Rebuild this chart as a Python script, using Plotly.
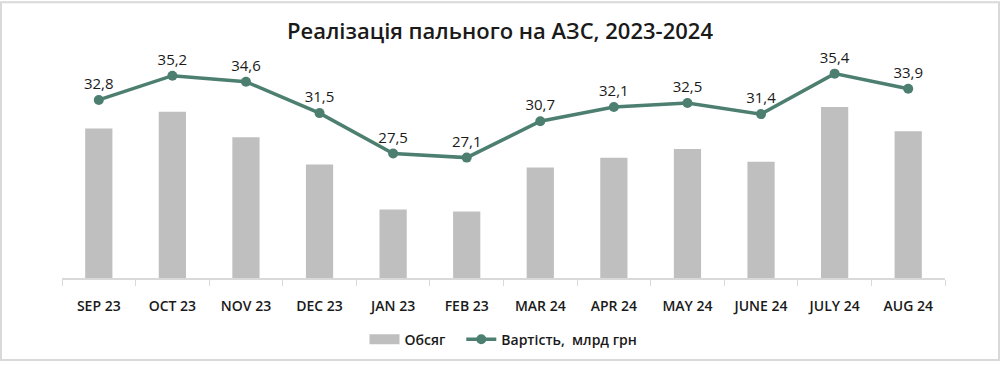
import plotly.graph_objects as go

categories = ["SEP 23", "OCT 23", "NOV 23", "DEC 23", "JAN 23", "FEB 23",
              "MAR 24", "APR 24", "MAY 24", "JUNE 24", "JULY 24", "AUG 24"]
volume = [153, 170, 144, 116, 70, 68, 113, 123, 132, 119, 175, 150]
value_bn = [32.8, 35.2, 34.6, 31.5, 27.5, 27.1, 30.7, 32.1, 32.5, 31.4, 35.4, 33.9]
value_labels = [f"{v:.1f}".replace(".", ",") for v in value_bn]

W, H = 1000, 368
ML, MR, MT, MB = 62, 55, 60, 85
PW, PH = W - ML - MR, H - MT - MB

green = "#4D7F70"
gray = "#BFBFBF"
txt = "#1a1a1a"
font = "Open Sans"

fig = go.Figure()
fig.add_trace(go.Bar(x=categories, y=volume, name="Обсяг", marker_color=gray,
                     marker_line_width=0, yaxis="y", showlegend=False))
# legend-only entry to draw the wide grey patch like the original
fig.add_trace(go.Scatter(x=[None], y=[None], mode="lines", name="Обсяг   ",
                         line=dict(color=gray, width=10), yaxis="y"))
fig.add_trace(go.Scatter(x=categories, y=value_bn, name="Вартість,  млрд грн",
                         mode="lines+markers+text", text=value_labels,
                         textposition="top center", cliponaxis=False,
                         textfont=dict(size=15, color=txt, family=font),
                         line=dict(color=green, width=3.5),
                         marker=dict(color=green, size=10),
                         yaxis="y2"))

fig.update_layout(
    width=W, height=H,
    margin=dict(l=ML, r=MR, t=MT, b=MB),
    paper_bgcolor="white", plot_bgcolor="white",
    font=dict(family=font, color=txt),
    title=dict(text="Реалізація пального на АЗС, 2023-2024",
               x=0.5, xanchor="center", y=1 - 31 / H, yanchor="middle",
               font=dict(size=22, color=txt, family=font, weight=600)),
    bargap=0.63,
    showlegend=True,
    legend=dict(orientation="h", x=0.5, xanchor="center",
                y=(0 - (346 - (MT + PH))) / PH, yanchor="middle",
                font=dict(size=14, color=txt, family=font, weight=600),
                traceorder="normal"),
    xaxis=dict(type="category", showgrid=False, showline=True,
               linecolor="#D9D9D9", linewidth=1.5,
               ticks="outside", tickson="boundaries", ticklen=6,
               tickcolor="#D9D9D9", tickwidth=1, ticklabelstandoff=14,
               tickfont=dict(size=14, color=txt, family=font, weight=600),
               range=[-0.5, 11.5]),
    yaxis=dict(range=[0, PH], visible=False, showgrid=False),
    yaxis2=dict(range=[15.2, 36.75], overlaying="y", visible=False,
                showgrid=False),
    shapes=[dict(type="rect", xref="paper", yref="paper",
                 x0=-(ML - 1) / PW, x1=1 + (MR - 1) / PW,
                 y0=-(MB - 1) / PH, y1=1 + (MT - 1) / PH,
                 line=dict(color="#D9D9D9", width=2))],
)

fig.write_html("out.html")
